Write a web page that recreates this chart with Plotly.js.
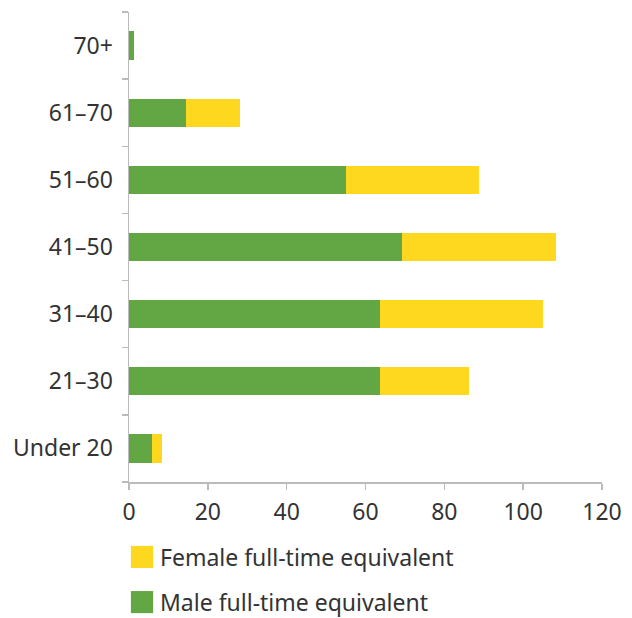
<!DOCTYPE html>
<html>
<head>
<meta charset="utf-8">
<script src="https://cdn.plot.ly/plotly-3.0.1.min.js"></script>
<style>html,body{margin:0;padding:0;background:#fff;}#chart{width:632px;height:618px;}</style>
</head>
<body>
<div id="chart"></div>
<script>
const categories = ["Under 20", "21–30", "31–40", "41–50", "51–60", "61–70", "70+"];
const maleFTE = [5.8, 63.7, 63.7, 69.3, 55.0, 14.4, 1.2];
const femaleFTE = [2.5, 22.6, 41.4, 39.1, 33.8, 13.7, 0];
const xTicks = [0, 20, 40, 60, 80, 100, 120];

const green = "#62A744", yellow = "#FED81F";
const font = "Noto Sans, Open Sans, sans-serif";
const fs = 23;

const traces = [
  {type: "bar", orientation: "h", y: categories, x: maleFTE, name: "Male full-time equivalent",
   marker: {color: green}, showlegend: false, hoverinfo: "x+y"},
  {type: "bar", orientation: "h", y: categories, x: femaleFTE, name: "Female full-time equivalent",
   marker: {color: yellow}, showlegend: false, hoverinfo: "x+y"}
];

const layout = {
  width: 632, height: 618,
  margin: {l: 129, r: 30, t: 12, b: 136},
  barmode: "stack",
  bargap: 0.58,
  paper_bgcolor: "#fff", plot_bgcolor: "#fff",
  font: {family: font, size: fs, color: "#333"},
  xaxis: {range: [0, 120], tickvals: xTicks, ticktext: xTicks.map(String),
    showgrid: false, zeroline: false, showline: true, linecolor: "#bbb", linewidth: 1.5,
    ticks: "outside", ticklen: 6, tickcolor: "#bbb", tickwidth: 1.5, ticklabelstandoff: 3,
    tickfont: {size: fs, color: "#333"}},
  yaxis: {type: "category", categoryorder: "array", categoryarray: categories,
    showgrid: false, zeroline: false, showline: true, linecolor: "#bbb", linewidth: 1.5,
    ticks: "outside", ticklen: 6, tickcolor: "#bbb", tickwidth: 1.5, tickson: "boundaries",
    ticklabelstandoff: 10,
    tickfont: {size: fs, color: "#333"}},
  showlegend: false,
  shapes: [
    {type: "rect", xref: "paper", yref: "paper", x0: 0.004, x1: 0.051, y0: -0.136, y1: -0.183, fillcolor: yellow, line: {width: 0}},
    {type: "rect", xref: "paper", yref: "paper", x0: 0.004, x1: 0.051, y0: -0.232, y1: -0.279, fillcolor: green, line: {width: 0}}
  ],
  annotations: [
    {xref: "paper", yref: "paper", x: 0.061, y: -0.160, xanchor: "left", yanchor: "middle", showarrow: false,
     text: traces[1].name, font: {size: fs, color: "#333"}},
    {xref: "paper", yref: "paper", x: 0.061, y: -0.255, xanchor: "left", yanchor: "middle", showarrow: false,
     text: traces[0].name, font: {size: fs, color: "#333"}}
  ]
};

Plotly.newPlot("chart", traces, layout, {displayModeBar: false, staticPlot: true});
</script>
</body>
</html>
